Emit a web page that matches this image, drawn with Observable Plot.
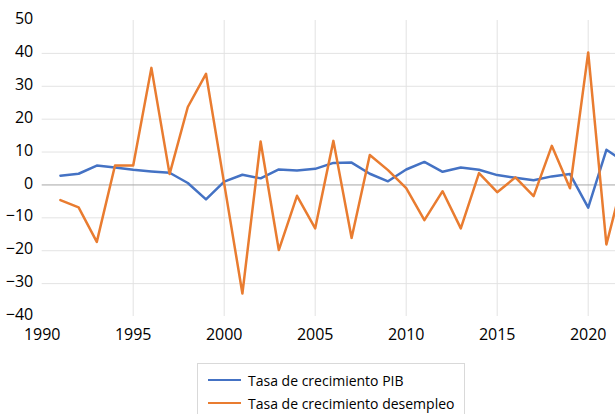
<!DOCTYPE html>
<html>
<head>
<meta charset="utf-8">
<script src="https://cdn.jsdelivr.net/npm/d3@7"></script>
<script src="https://cdn.jsdelivr.net/npm/@observablehq/plot@0.6"></script>
<style>
  html, body { margin: 0; padding: 0; background: #fff; overflow: hidden; }
  body { width: 615px; height: 414px; font-family: "Open Sans", sans-serif; }
  #legend {
    position: absolute; left: 197px; top: 363px; width: 268px; height: 60px;
    border: 1px solid #d9d9d9; box-sizing: border-box; font-size: 14px; color: #000;
  }
  .row { position: absolute; left: 10px; height: 20px; display: flex; align-items: center; }
  .sw { width: 33px; height: 2.5px; margin-right: 7px; }
</style>
</head>
<body>
<div id="chart"></div>
<div id="legend">
  <div class="row" style="top:6px"><span class="sw" style="background:#4472C4"></span><span>Tasa de crecimiento PIB</span></div>
  <div class="row" style="top:29px"><span class="sw" style="background:#E97C30"></span><span>Tasa de crecimiento desempleo</span></div>
</div>
<script>
const years = [1991,1992,1993,1994,1995,1996,1997,1998,1999,2000,2001,2002,2003,2004,2005,2006,2007,2008,2009,2010,2011,2012,2013,2014,2015,2016,2017,2018,2019,2020,2021,2022];
const pib = [2.8,3.4,5.9,5.3,4.6,4.1,3.7,0.6,-4.4,1.0,3.1,2.0,4.7,4.4,4.9,6.7,6.8,3.4,1.1,4.7,7.0,4.0,5.3,4.6,3.0,2.2,1.4,2.6,3.3,-6.9,10.7,7.0];
const desempleo = [-4.6,-6.8,-17.3,5.9,5.9,35.6,3.3,23.7,33.8,0.4,-33.0,13.2,-19.8,-3.3,-13.2,13.4,-16.1,9.1,4.5,-1.0,-10.7,-1.9,-13.2,3.6,-2.2,2.3,-3.4,11.9,-1.0,40.3,-18.1,3.5];
const xTicks = [1990,1995,2000,2005,2010,2015,2020];
const yTicks = [-40,-30,-20,-10,0,10,20,30,40,50];
const seriesNames = ["Tasa de crecimiento PIB","Tasa de crecimiento desempleo"];

const rows = [];
years.forEach((yr, i) => {
  rows.push({year: yr, value: pib[i], serie: seriesNames[0]});
  rows.push({year: yr, value: desempleo[i], serie: seriesNames[1]});
});

const chart = Plot.plot({
  width: 615,
  height: 345,
  marginLeft: 41.7,
  marginRight: 0,
  marginTop: 20,
  marginBottom: 29,
  style: {fontFamily: "Open Sans, sans-serif", fontSize: "16px", color: "#000", background: "#fff"},
  x: {domain: [1990, 2021.5], label: null},
  y: {domain: [-40, 50], label: null},
  color: {domain: seriesNames, range: ["#4472C4", "#E97C30"]},
  marks: [
    Plot.ruleY(yTicks.filter(d => d !== 0 && d !== 50 && d !== -40), {stroke: "#e3e3e3", strokeWidth: 1}),
    Plot.ruleX(xTicks.filter(d => d !== 1990), {y1: -40, y2: 50, stroke: "#e3e3e3", strokeWidth: 1}),
    Plot.ruleY([0], {stroke: "#a6a6a6", strokeWidth: 1}),
    Plot.line(rows, {x: "year", y: "value", z: "serie", stroke: "serie", strokeWidth: 2.5, clip: true}),
    Plot.axisX({ticks: xTicks, tickFormat: "d", tickSize: 0, tickPadding: 12.5, fontSize: 16}),
    Plot.axisY({ticks: yTicks, tickSize: 0, tickPadding: 9, fontSize: 16, dy: -1.5})
  ]
});
document.getElementById("chart").appendChild(chart);
</script>
</body>
</html>
